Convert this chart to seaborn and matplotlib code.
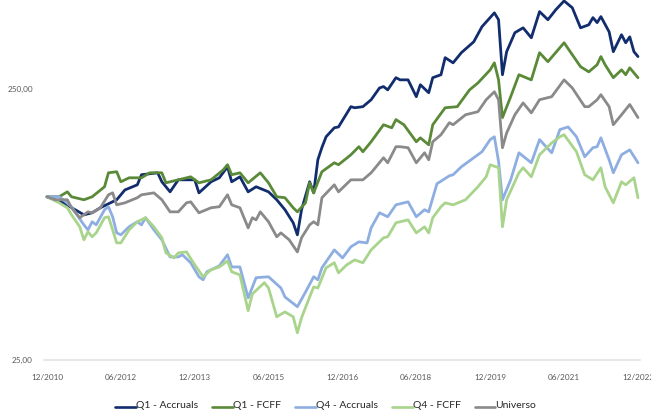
import matplotlib
matplotlib.use("Agg")
import matplotlib.pyplot as plt
import matplotlib.dates as mdates
from matplotlib.lines import Line2D
from matplotlib.legend_handler import HandlerLine2D
from matplotlib.ticker import FixedLocator, FixedFormatter, NullLocator
import pandas as pd
import seaborn as sns

# Cumulative index, base 100 at 12/2010. Each portfolio is given as
# (months elapsed since 12/2010, index level).
q1_accruals_m = [0, 4, 9, 11, 13, 17, 19, 22, 23, 27, 28, 30, 32, 36, 37, 40, 42, 44, 45, 47,
                 49, 51, 54, 56, 58, 60, 61, 62, 64, 65, 66, 67, 68, 70, 71, 74, 75, 77, 79, 81,
                 82, 83, 85, 86, 88, 90, 91, 93, 94, 96, 97, 99, 101, 104, 106, 109, 110, 111,
                 112, 114, 116, 118, 120, 122, 124, 126, 128, 130, 132, 133, 134, 135, 137,
                 138, 140, 141, 142, 143, 144]
q1_accruals = [100, 95, 85.8, 87.3, 91.1, 97.5, 106, 110.7, 120.6, 122.6, 113.6, 104.3, 115.5,
               115.5, 103.4, 113.6, 117.5, 129, 113.6, 118.5, 104.3, 108.9, 104.3, 97.5, 89.6,
               80.2, 72.4, 89.6, 113.6, 103.4, 137, 152, 166.5, 179.7, 181, 215, 213, 215, 228,
               252, 255, 248, 275, 270, 270, 234, 259, 242, 275, 282, 326, 312, 340, 373, 424,
               477, 450, 282, 343, 403, 420, 386, 482, 450, 490, 528, 498, 420, 431, 458, 439,
               462, 406, 343, 396, 370, 389, 343, 329]

q1_fcff_m = [0, 3, 5, 6, 9, 11, 14, 15, 17, 18, 20, 23, 25, 28, 29, 32, 35, 37, 40, 43, 44, 45,
             47, 49, 52, 54, 56, 58, 60, 61, 63, 64, 65, 67, 70, 71, 74, 76, 77, 79, 82, 84, 85,
             87, 90, 91, 93, 94, 97, 100, 103, 105, 108, 109, 110, 111, 113, 115, 118, 120, 122,
             126, 130, 132, 134, 135, 136, 138, 140, 141, 142, 144]
q1_fcff = [100, 100, 104.3, 100, 97.5, 100, 108.9, 122.6, 123.7, 113.6, 117.5, 117.5, 122.6,
           122.6, 112.6, 115.5, 118.5, 112.6, 115.5, 125.8, 131.3, 120.6, 122.6, 112.6, 122.6,
           112.6, 100, 99.2, 91.1, 88, 95, 112.6, 103.4, 123.7, 133.5, 131.3, 142.9, 153, 146.6,
           159.6, 184.4, 179.7, 192.6, 184.4, 159.6, 165, 155.5, 184.4, 213, 215, 248, 263, 294,
           312, 270, 196, 234, 282, 270, 340, 315, 370, 302, 289, 307, 329, 307, 275, 294, 282,
           299, 275]

q4_accruals_m = [0, 3, 4, 6, 7, 9, 10, 11, 12, 14, 15, 16, 17, 18, 20, 22, 23, 24, 26, 28, 30,
                 32, 33, 35, 37, 38, 39, 42, 44, 45, 47, 49, 51, 54, 57, 58, 61, 63, 65, 66, 67,
                 68, 70, 72, 74, 76, 78, 79, 81, 83, 85, 88, 90, 92, 93, 95, 98, 99, 101, 104,
                 106, 108, 109, 110, 111, 113, 115, 118, 120, 123, 125, 127, 129, 131, 133, 134,
                 135, 137, 138, 140, 142, 144]
q4_accruals = [100, 100, 97.5, 91.9, 87.3, 78.8, 75.5, 80.9, 78.8, 89.6, 91.9, 84.4, 73.6, 72.4,
               77.5, 80.9, 78.8, 83.7, 75.5, 69.4, 60, 60, 61.1, 57.1, 50.7, 49.4, 52.9, 55.6,
               61.1, 55.1, 55.1, 42.4, 50.3, 50.7, 46.1, 42.7, 39.3, 44.5, 50.7, 49.4, 54.7, 57.6,
               63.7, 59.5, 65.4, 68.2, 67.6, 76.8, 87.3, 84.4, 93.4, 95.8, 84.4, 89.6, 88, 111.7,
               119.5, 120.6, 129, 139.3, 146.6, 162.5, 166.5, 135, 97.5, 115.5, 145.3, 133.5,
               162.5, 145.3, 177, 181, 166.5, 140.5, 151.7, 153, 165, 136.9, 122.6, 142.9, 149,
               133.5]

q4_fcff_m = [0, 3, 5, 6, 8, 9, 10, 11, 12, 14, 15, 16, 17, 18, 20, 22, 24, 26, 28, 29, 31, 32,
             34, 36, 38, 40, 42, 44, 45, 47, 49, 50, 53, 54, 56, 58, 60, 61, 62, 64, 65, 66, 68,
             70, 71, 73, 75, 77, 79, 82, 83, 85, 88, 90, 92, 93, 94, 96, 97, 99, 102, 105, 107,
             108, 110, 111, 112, 115, 116, 118, 120, 123, 125, 126, 129, 131, 133, 135, 136,
             138, 140, 141, 143, 144]
q4_fcff = [100, 95, 91.1, 85.8, 77.5, 69.4, 74.3, 71.2, 73.6, 83.7, 84.4, 75.5, 67.6, 67.6, 75.5,
           80.9, 83.7, 77.5, 70.6, 62.1, 59.5, 62.1, 62.6, 56.1, 50.7, 53.8, 55.1, 58, 52.9, 51.5,
           38, 43.8, 48.2, 46.1, 36.1, 37.6, 36.1, 31.5, 35.8, 42.7, 46.5, 46.1, 54.7, 57.1,
           52.4, 56.1, 58.5, 57.1, 63.7, 70.6, 71.2, 80.2, 82.2, 73.6, 77.5, 73.6, 83.7, 91.9,
           95, 93.4, 97.5, 108.9, 118.5, 131.3, 128, 77.5, 97.5, 122.6, 128, 118.5, 142.9, 158,
           166.5, 169.4, 146.6, 120.6, 115.5, 128, 108.9, 95, 113.6, 110.7, 117.5, 99.2]

universo_m = [0, 2, 5, 6, 8, 10, 11, 13, 15, 16, 17, 19, 22, 23, 26, 28, 30, 32, 34, 35, 37, 40,
              42, 44, 45, 47, 49, 50, 51, 52, 54, 56, 57, 59, 61, 62, 64, 65, 66, 67, 70, 71,
              74, 77, 79, 82, 83, 85, 86, 88, 90, 92, 93, 94, 96, 98, 99, 102, 105, 107, 109,
              110, 111, 112, 114, 116, 118, 120, 123, 126, 128, 131, 132, 134, 135, 137, 138,
              140, 142, 144]
universo = [100, 97.5, 97.5, 91.1, 83.7, 88, 87.3, 91.1, 101.7, 103.4, 93.4, 95, 99.2, 101.7,
            103.4, 97.5, 88, 88, 95, 95.8, 87.3, 91.1, 91.9, 101.7, 93.4, 91.1, 76.8, 83.7,
            82.2, 88, 80.9, 71.2, 73.6, 69.4, 62.6, 70.6, 78.8, 80.9, 78.8, 99.2, 110.7, 104.3,
            115.5, 115.5, 122.6, 139.3, 133.5, 153, 153, 151.7, 133.5, 145.3, 136.9, 159.6,
            169.4, 187.6, 184.4, 200.7, 206, 228, 244, 228, 151.7, 172, 200.7, 222, 204, 228,
            234, 270, 252, 215, 215, 228, 238, 215, 184.4, 200.7, 219, 196]

series_names = ["Q1 - Accruals", "Q1 - FCFF", "Q4 - Accruals", "Q4 - FCFF", "Universo"]
series_months = [q1_accruals_m, q1_fcff_m, q4_accruals_m, q4_fcff_m, universo_m]
series_values = [q1_accruals, q1_fcff, q4_accruals, q4_fcff, universo]
colors = ["#112d6e", "#5a8a38", "#8eaee2", "#a9d48c", "#8a8a8a"]

start_date = "2010-12-01"
tick_dates = ["2010-12", "2012-06", "2013-12", "2015-06", "2016-12",
              "2018-06", "2019-12", "2021-06", "2022-12"]
y_ticks = [25, 250]
y_tick_labels = ["25,00", "250,00"]

base = pd.Timestamp(start_date)
frames = []
for name, months, vals in zip(series_names, series_months, series_values):
    when = [base + pd.DateOffset(months=int(m)) for m in months]
    frames.append(pd.DataFrame({"Data": when, "Valor": vals, "Carteira": name}))
df = pd.concat(frames, ignore_index=True)

sns.set_theme(style="white")
plt.rcParams["font.family"] = ["Lato", "DejaVu Sans"]

fig = plt.figure(figsize=(6.51, 4.13), dpi=100)
ax = fig.add_axes([44 / 651, 53 / 413, 596 / 651, 360 / 413])

sns.lineplot(data=df, x="Data", y="Valor", hue="Carteira", hue_order=series_names,
             palette=dict(zip(series_names, colors)), linewidth=2.0, estimator=None,
             legend=False, ax=ax)
for line in ax.get_lines():
    line.set_solid_joinstyle("round")
    line.set_solid_capstyle("round")

ax.set_yscale("log")
ax.set_ylim(25, 532)
ax.set_xlim(pd.Timestamp("2010-11-09"), pd.Timestamp("2022-12-16"))

ax.yaxis.set_major_locator(FixedLocator(y_ticks))
ax.yaxis.set_major_formatter(FixedFormatter(y_tick_labels))
ax.yaxis.set_minor_locator(NullLocator())
ax.xaxis.set_major_locator(FixedLocator(mdates.date2num(pd.to_datetime(tick_dates))))
ax.xaxis.set_major_formatter(mdates.DateFormatter("%m/%Y"))

ax.tick_params(axis="both", length=0, labelsize=5.9, labelcolor="#595959")
ax.tick_params(axis="y", pad=8)
ax.tick_params(axis="x", pad=10)
ax.set_xlabel("")
ax.set_ylabel("")
ax.grid(False)

for side in ["top", "right", "left"]:
    ax.spines[side].set_visible(False)
ax.spines["bottom"].set_color("#e3e3e3")
ax.spines["bottom"].set_linewidth(1.2)


class BaselineLine(HandlerLine2D):
    """Legend key drawn along the text baseline instead of its middle."""

    def create_artists(self, legend, orig_handle, xdescent, ydescent, width, height,
                       fontsize, trans):
        artists = super().create_artists(legend, orig_handle, xdescent, ydescent, width,
                                         height, fontsize, trans)
        for a in artists:
            if isinstance(a, Line2D):
                a.set_ydata([height * 0.05] * len(a.get_xdata()))
        return artists


handles = [Line2D([0], [0], color=c, lw=1.9) for c in colors]
fig.legend(handles, series_names, loc="center", bbox_to_anchor=(0.5, 1 - 405 / 413),
           ncol=5, frameon=False, fontsize=7.5, handlelength=2.0, handletextpad=0.0,
           columnspacing=1.35, labelcolor="#262626",
           handler_map={Line2D: BaselineLine()})

fig.savefig("out.png", dpi=100)
